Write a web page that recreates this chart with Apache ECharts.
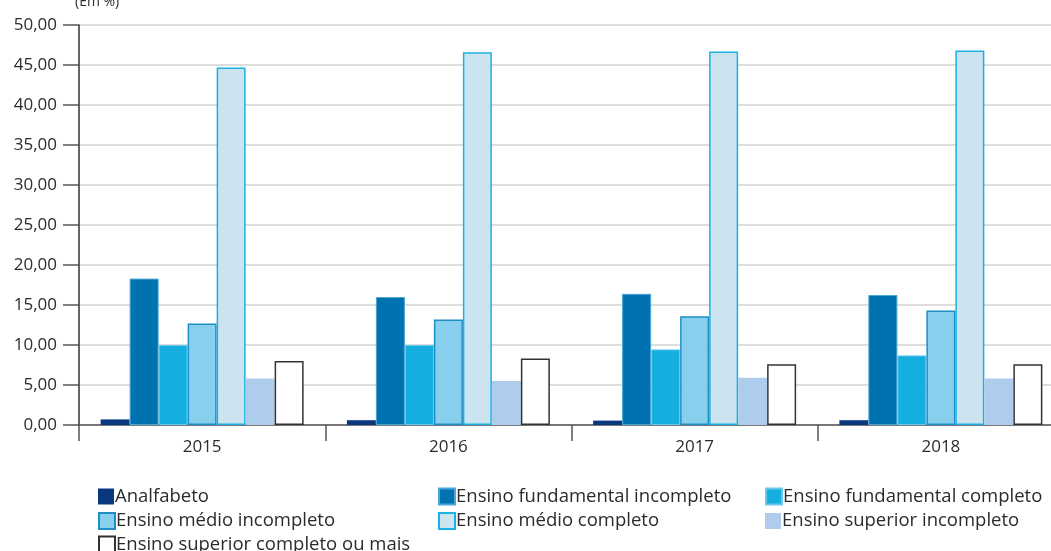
<!DOCTYPE html>
<html>
<head>
<meta charset="utf-8">
<script src="https://cdn.jsdelivr.net/npm/echarts@6/dist/echarts.min.js"></script>
<style>
  html, body { margin: 0; padding: 0; background: #fff; overflow: hidden; }
  /* o gráfico original continua além da borda direita */
  #chart { width: 1070px; height: 551px; }
</style>
</head>
<body>
<div id="chart"></div>
<script>
// anos
const years = ['2015', '2016', '2017', '2018']
// escolaridade (em %)
const analfabeto = [0.7, 0.6, 0.55, 0.6]
const fundIncompleto = [18.3, 16.0, 16.4, 16.25]
const fundCompleto = [10.0, 10.0, 9.45, 8.7]
const medioIncompleto = [12.7, 13.2, 13.6, 14.3]
const medioCompleto = [44.7, 46.6, 46.7, 46.8]
const superiorIncompleto = [5.8, 5.5, 5.9, 5.8]
const superiorCompleto = [8.0, 8.3, 7.6, 7.6]

const font = '"Open Sans", "Noto Sans", sans-serif'
const txt = '#2b2b2b'

function bar(name, data, color, border, bw) {
  return {
    name: name,
    type: 'bar',
    data: data,
    barWidth: 29,
    barGap: '0%',
    itemStyle: {
      color: color,
      borderColor: border || color,
      borderWidth: bw || 0
    }
  }
}

// uma legenda por item, para reproduzir as três colunas
function leg(name, left, top) {
  return {
    data: [name],
    left: left,
    top: top,
    itemWidth: 16,
    itemHeight: 16,
    icon: 'rect',
    padding: 0,
    textStyle: { fontFamily: font, fontSize: 18.5, color: txt, padding: [0, 0, 0, -4] }
  }
}

const chart = echarts.init(document.getElementById('chart'))
chart.setOption({
  animation: false,
  title: {
    text: '(Em %)',
    left: 70,
    top: -10,
    textStyle: { fontFamily: font, fontSize: 14, fontWeight: 'normal', color: txt }
  },
  legend: [
    leg('Analfabeto', 98, 487),
    leg('Ensino fundamental incompleto', 438, 487),
    leg('Ensino fundamental completo', 765, 487),
    leg('Ensino médio incompleto', 98, 511.5),
    leg('Ensino médio completo', 438, 511.5),
    leg('Ensino superior incompleto', 765, 511.5),
    leg('Ensino superior completo ou mais', 98, 535)
  ],
  grid: { left: 79, top: 25, width: 985, height: 400 },
  xAxis: {
    type: 'category',
    data: years,
    axisLine: { lineStyle: { color: '#555', width: 1.5 } },
    axisTick: { show: true, length: 16, lineStyle: { color: '#555', width: 1.5 } },
    axisLabel: { fontFamily: font, fontSize: 17, color: txt, margin: 14 }
  },
  yAxis: {
    type: 'value',
    min: 0,
    max: 50,
    interval: 5,
    axisLine: { show: true, lineStyle: { color: '#333', width: 1.5 } },
    axisTick: { show: true, length: 16, lineStyle: { color: '#555', width: 1.5 } },
    axisLabel: {
      fontFamily: font, fontSize: 17, color: txt, margin: 22,
      formatter: v => v.toFixed(2).replace('.', ',')
    },
    splitLine: { lineStyle: { color: '#d2d2d2', width: 1.5 } }
  },
  series: [
    bar('Analfabeto', analfabeto, '#0b3680'),
    bar('Ensino fundamental incompleto', fundIncompleto, '#0072af', '#4aa6d6', 1),
    bar('Ensino fundamental completo', fundCompleto, '#14afdf', '#6cc8ea', 1),
    bar('Ensino médio incompleto', medioIncompleto, '#88cfee', '#1e8ec9', 1.5),
    bar('Ensino médio completo', medioCompleto, '#cce4f0', '#1bb2e3', 1.5),
    bar('Ensino superior incompleto', superiorIncompleto, '#aecdec'),
    bar('Ensino superior completo ou mais', superiorCompleto, '#ffffff', '#333333', 1.5)
  ]
})
</script>
</body>
</html>
